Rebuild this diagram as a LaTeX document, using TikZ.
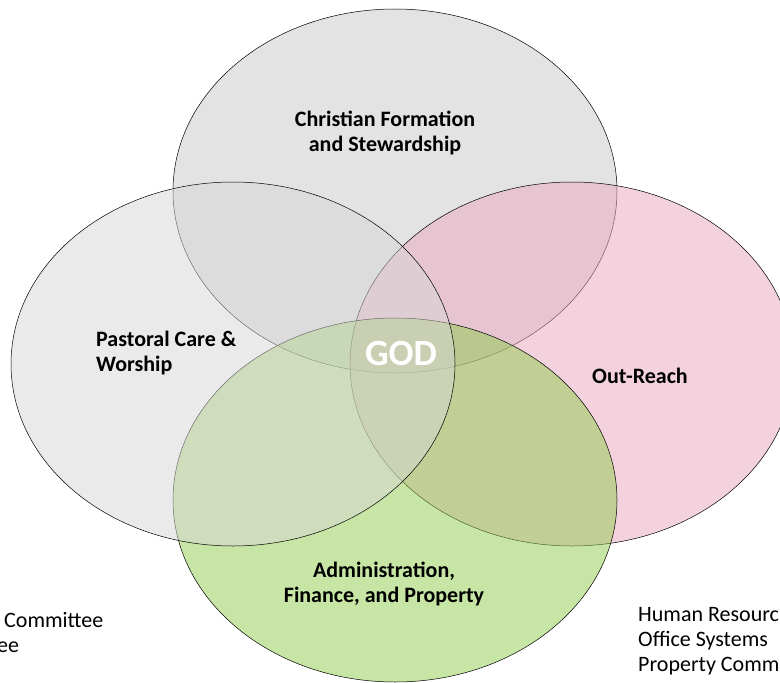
\documentclass[tikz,border=0pt]{standalone}
\usepackage{fontspec}
\setmainfont{Carlito}
\usetikzlibrary{shapes.geometric}
\definecolor{topgray}{HTML}{C9C9C9}
\definecolor{leftgray}{HTML}{D7D7D7}
\definecolor{outpink}{HTML}{E9A7BF}
\definecolor{admgreen}{HTML}{91CD4B}
\tikzset{
  venn/.style={ellipse, draw=black, line width=0.5bp, fill opacity=0.5, inner sep=0pt,
    minimum width=444bp, minimum height=364bp},
  lab/.style={font=\fontsize{22bp}{25bp}\selectfont\bfseries, inner sep=0pt, text=black},
  side/.style={font=\fontsize{22bp}{25bp}\selectfont, inner sep=0pt, text=black, align=left},
}
\begin{document}
\begin{tikzpicture}[x=1bp,y=-1bp]
\useasboundingbox (0,0) rectangle (780,683);
\clip (0,0) rectangle (780,683);
\fill[white] (0,0) rectangle (780,683);
\node[venn, fill=topgray] (top) at (395,191) {};
\node[venn, fill=outpink] (right) at (572,364) {};
\node[venn, fill=admgreen] (bottom) at (395,500) {};
\node[venn, fill=leftgray] (left) at (233,364) {};
\node[lab, align=center] (cf) at (385,133) {Christian Formation\\and Stewardship};
\node[lab, align=left, anchor=west] (pc) at (96,353) {Pastoral Care \&\\Worship};
\node[lab] (or) at (640,376) {Out-Reach};
\node[lab, align=center] (ad) at (384,584) {Administration,\\Finance, and Property};
\node[font=\fontsize{37bp}{40bp}\selectfont\bfseries, text=white, inner sep=0pt] (god) at (401,353) {GOD};
\node[side, anchor=west] (lt) at (-3,632) {\hspace{7bp}Committee\\ee};
\node[side, anchor=west] (rt) at (638,641) {Human Resourc\\Office Systems\\Property Comm};
\end{tikzpicture}
\end{document}
